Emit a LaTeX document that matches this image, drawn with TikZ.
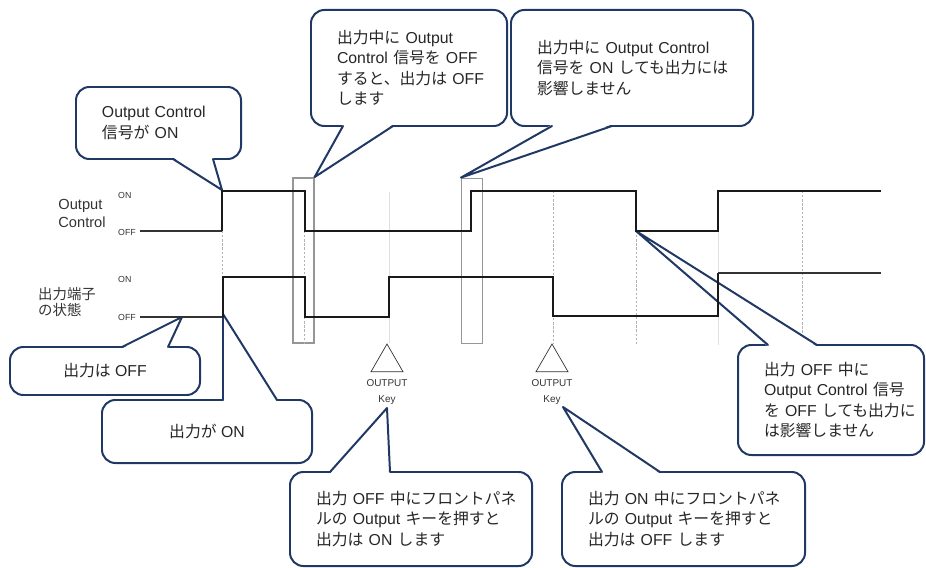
\documentclass[tikz,border=0pt]{standalone}
\usepackage{fontspec}
\setmainfont{Liberation Sans}
\newfontfamily\jpfont{Noto Sans CJK JP}
\newcommand{\J}[1]{{\jpfont #1}}
\usetikzlibrary{calc,shapes.geometric}
\definecolor{callnavy}{RGB}{32,56,100}
\definecolor{hlgray}{RGB}{150,150,150}
\hyphenpenalty=10000
\exhyphenpenalty=10000

% callout pointer: base ends #1 #2, tip #3, inward shift #4
\newcommand{\pointer}[4]{%
  \fill[white] ($#1+#4$) -- #3 -- ($#2+#4$) -- cycle;
  \draw[ptr] #1 -- #3 -- #2;}

\begin{document}
\begin{tikzpicture}[x=0.03cm,y=-0.03cm,
  note/.style={draw=callnavy, fill=white, line width=1.7pt, rounded corners=0.4cm,
               font=\fontsize{13.5}{17.5}\selectfont, text=black!85, align=left,
               inner xsep=0.78cm, inner ysep=0pt},
  ptr/.style={draw=callnavy, line width=1.7pt, line cap=round, line join=round},
  wave/.style={line width=1.8pt, black!90},
  wavethin/.style={line width=1.1pt, black!80},
  guide/.style={gray!60, line width=0.5pt, dash pattern=on 2pt off 1.5pt},
  faint/.style={gray!25, line width=0.5pt},
  hilite/.style={draw=hlgray, line width=1.2pt, minimum width=0.62cm,
                 minimum height=4.96cm, inner sep=0pt},
  lvl/.style={font=\fontsize{7.5}{8}\selectfont, text=black!80, inner sep=0pt, anchor=west},
  sig/.style={text=black!80, align=left, inner sep=0pt},
  keytri/.style={draw=black!80, line width=0.6pt, regular polygon,
                 regular polygon sides=3, minimum size=1.11cm, inner sep=0pt},
  keylbl/.style={font=\fontsize{8.5}{13.5}\selectfont, text=black!80,
                 align=center, inner sep=0pt},
]
\useasboundingbox (0,0) rectangle (926,568);

% ---- signal names and levels ----
\node[sig, font=\fontsize{12.5}{15.3}\selectfont] (ocname) at (82,213) {Output\\Control};
\node[sig, font=\fontsize{12.3}{13.6}\selectfont, anchor=west] (outname) at (38,302)
  {\J{出力端子}\\\J{の状態}};
\node[lvl] (ocon) at (118,195) {ON};
\node[lvl] (ocoff) at (118,232) {OFF};
\node[lvl] (outon) at (118,279) {ON};
\node[lvl] (outoff) at (118,317) {OFF};

% ---- highlight frames ----
\node[hilite] (hl1) at (303.5,260.5) {};
\node[hilite] (hl2) at (472,261) {};

% ---- guide lines ----
\draw[guide] (222,231) -- (222,345);
\draw[guide] (304,231) -- (304,345);
\draw[guide] (553,191) -- (553,343);
\draw[guide] (636,231) -- (636,345);
\draw[guide] (802,191) -- (802,345);
\draw[faint] (389,192) -- (389,343);
\draw[faint] (718,231) -- (718,345);

% ---- OUTPUT keys ----
\node[keytri] (tri1) at (387,362.5) {};
\node[keytri] (tri2) at (552,362.5) {};
\node[keylbl] (key1) at (387,392) {OUTPUT\\Key};
\node[keylbl] (key2) at (552,392) {OUTPUT\\Key};

% ---- pointer tips ----
\coordinate (tOcOn) at (222,190);
\coordinate (tOcOff) at (636,231);
\coordinate (tOutOff) at (182,317);
\coordinate (tOutOn) at (223,314);
\coordinate (tKey1) at (387,408);
\coordinate (tKey2) at (563,407);

% ---- callouts ----
\node[note, minimum width=4.95cm, minimum height=2.16cm, text width=3.39cm] (c1) at (158.5,123)
  {Output~Control\\\J{信号が}~ON};
\pointer{(173,159)}{(213,159)}{(tOcOn)}{(0,-1.5)}

\node[note, minimum width=5.88cm, minimum height=3.48cm, text width=4.32cm] (c2) at (409,68)
  {\J{出力中に}~Output\\Control~\J{信号を}~OFF\\\J{すると、出力は}~OFF\\\J{します}};
\pointer{(343,126)}{(393,126)}{(hl1.north east)}{(0,-1.5)}

\node[note, minimum width=7.26cm, minimum height=3.48cm, text width=5.70cm] (c3) at (632,68)
  {\J{出力中に}~Output~Control\\\J{信号を}~ON~\J{しても出力には}\\\J{影響しません}};
\pointer{(552,126)}{(612,126)}{(hl2.north west)}{(0,-1.5)}

\node[note, align=center, minimum width=5.7cm, minimum height=1.44cm] (c4) at (105,371)
  {\J{出力は}~OFF};
\pointer{(122,347)}{(168,347)}{(tOutOff)}{(0,1.5)}

\node[note, align=center, minimum width=6.3cm, minimum height=1.89cm] (c5) at (207,431.5)
  {\J{出力が}~ON};
\pointer{(223,400)}{(277,400)}{(tOutOn)}{(0,1.5)}

\node[note, minimum width=7.26cm, minimum height=2.82cm, text width=5.70cm] (c6) at (411,519)
  {\J{出力}~OFF~\J{中にフロントパネ}\\\J{ルの}~Output~\J{キーを押すと}\\\J{出力は}~ON~\J{します}};
\pointer{(330,472)}{(390,472)}{(tKey1)}{(0,1.5)}

\node[note, minimum width=7.29cm, minimum height=2.82cm, text width=5.73cm] (c7) at (683.5,519)
  {\J{出力}~ON~\J{中にフロントパネ}\\\J{ルの}~Output~\J{キーを押すと}\\\J{出力は}~OFF~\J{します}};
\pointer{(602,472)}{(660,472)}{(tKey2)}{(0,1.5)}

\node[note, minimum width=5.58cm, minimum height=3.3cm, text width=4.02cm] (c8) at (831,400)
  {\J{出力}~OFF~\J{中に}\\Output~Control~\J{信号}\\\J{を}~OFF~\J{しても出力に}\\\J{は影響しません}};
\pointer{(768,345)}{(817,345)}{(tOcOff)}{(0,1.5)}

% ---- waveforms ----
\draw[wavethin] (140,231) -- (222,231);
\draw[wave] (222,231) -- (222,191) -- (305,191) -- (305,231) -- (471,231) -- (471,191)
  -- (636,191) -- (636,231) -- (718,231) -- (718,191) -- (881,191);
\draw[wavethin] (140,317) -- (223,317);
\draw[wave] (223,317) -- (223,277) -- (305,277) -- (305,317) -- (389,317) -- (389,277)
  -- (553,277) -- (553,316) -- (718,316) -- (718,273);
\draw[wavethin] (718,273) -- (881,273);

\end{tikzpicture}
\end{document}
